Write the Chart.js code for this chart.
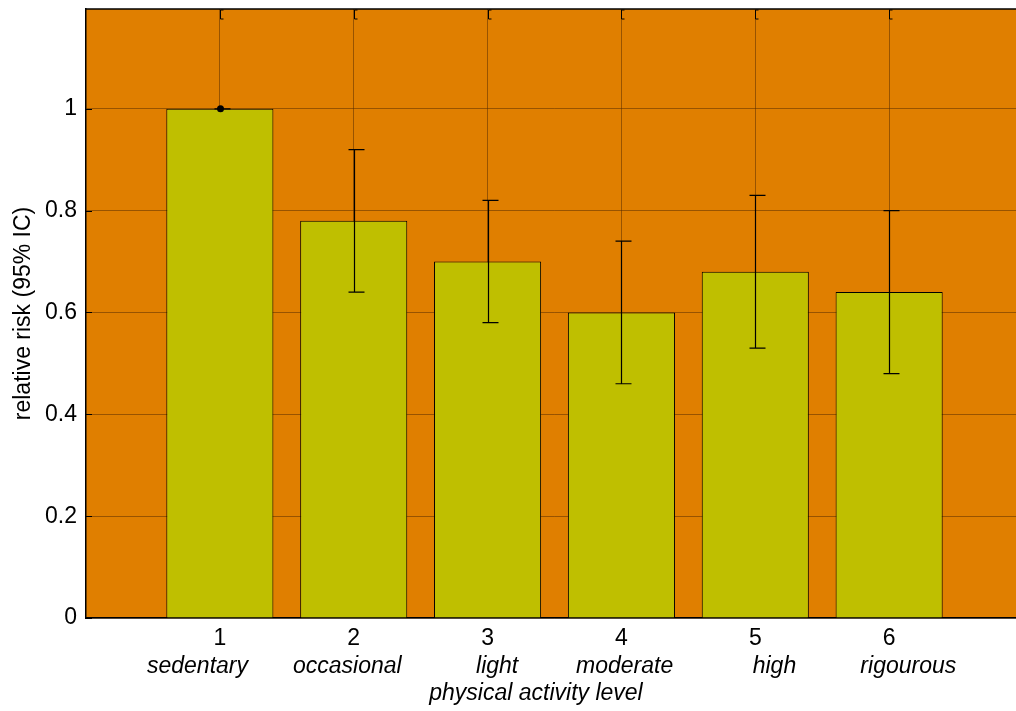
<!DOCTYPE html>
<html>
<head>
<meta charset="utf-8">
<script src="https://cdn.jsdelivr.net/npm/chart.js@4.4.1/dist/chart.umd.min.js"></script>
<style>
  html, body { margin: 0; padding: 0; background: #fff; overflow: hidden; }
  canvas { display: block; }
</style>
</head>
<body>
<canvas id="chart" width="1030" height="711"></canvas>
<script>
// physical activity level vs relative risk
const levels = [1, 2, 3, 4, 5, 6];
const xTickLabels = ["1", "2", "3", "4", "5", "6"];
// names are space padded, the way the original labels sit off-centre
const categories = ["sedentary       ", "occasional  ", "   light", " moderate", "      high", "      rigourous"];
const relativeRisk = [1.0, 0.78, 0.70, 0.60, 0.68, 0.64];
const ciLow = [1.0, 0.64, 0.58, 0.46, 0.53, 0.48];
const ciHigh = [1.0, 0.92, 0.82, 0.74, 0.83, 0.80];
const yTicks = [0, 0.2, 0.4, 0.6, 0.8, 1];
const yTickLabels = ["0", "0.2", "0.4", "0.6", "0.8", "1"];

const family = "'Liberation Sans', Arial, sans-serif";
const gridColor = "rgba(80, 40, 0, 0.5)";

const plotBackground = {
  id: "plotBackground",
  beforeDraw(chart) {
    const { ctx, chartArea: a } = chart;
    ctx.save();
    ctx.fillStyle = "#E07F00";
    ctx.fillRect(a.left, a.top, a.right - a.left, a.bottom - a.top);
    ctx.restore();
  }
};

const errorBars = {
  id: "errorBars",
  afterDatasetsDraw(chart) {
    const { ctx } = chart;
    const xs = chart.scales.x, ys = chart.scales.y;
    ctx.save();
    ctx.strokeStyle = "#000";
    ctx.fillStyle = "#000";
    ctx.lineWidth = 1.2;
    levels.forEach((lv, i) => {
      const x = Math.round(xs.getPixelForValue(lv)) + 0.5;
      const yHi = ys.getPixelForValue(ciHigh[i]);
      const yLo = ys.getPixelForValue(ciLow[i]);
      ctx.beginPath();
      ctx.moveTo(x, yHi);
      ctx.lineTo(x, yLo);
      [yHi, yLo].forEach(y => {
        ctx.moveTo(x - 6, y);
        ctx.lineTo(x + 10, y);
      });
      ctx.stroke();
      if (ciHigh[i] === ciLow[i]) {
        ctx.beginPath();
        ctx.arc(x, ys.getPixelForValue(relativeRisk[i]), 3.5, 0, Math.PI * 2);
        ctx.fill();
      }
    });
    ctx.restore();
  }
};

const frame = {
  id: "frame",
  afterDraw(chart) {
    const { ctx, chartArea: a } = chart;
    const xs = chart.scales.x, ys = chart.scales.y;
    ctx.save();
    ctx.strokeStyle = "#000";
    ctx.lineWidth = 1.5;
    ctx.beginPath();
    ctx.moveTo(a.left, a.top);
    ctx.lineTo(a.right, a.top);
    ctx.stroke();
    ctx.lineWidth = 1;
    ctx.beginPath();
    yTicks.forEach(v => {
      const y = Math.round(ys.getPixelForValue(v)) + 0.5;
      ctx.moveTo(a.left, y);
      ctx.lineTo(a.left + 6, y);
    });
    levels.forEach(v => {
      const x = Math.round(xs.getPixelForValue(v)) + 0.5;
      ctx.moveTo(x + 3, a.top + 1);
      ctx.lineTo(x, a.top + 1);
      ctx.lineTo(x, a.top + 10);
      ctx.lineTo(x + 3, a.top + 10);
    });
    ctx.stroke();
    // axis title
    ctx.fillStyle = "#000";
    ctx.font = "italic 23px " + family;
    ctx.textAlign = "center";
    ctx.textBaseline = "middle";
    ctx.fillText("physical activity level", a.left + 450, 694);
    ctx.restore();
  }
};

const ctx = document.getElementById("chart");
const chart = new Chart(ctx, {
  type: "bar",
  data: {
    datasets: [{
      label: "relative risk",
      data: levels.map((lv, i) => ({ x: lv, y: relativeRisk[i] })),
      backgroundColor: "#BFBF00",
      borderColor: "#000",
      borderWidth: 1,
      barPercentage: 1,
      categoryPercentage: 0.8
    }]
  },
  options: {
    responsive: false,
    animation: false,
    layout: { padding: { top: 9, right: 7, left: 0, bottom: 0 } },
    plugins: { legend: { display: false }, tooltip: { enabled: false } },
    scales: {
      x: {
        type: "linear",
        position: "bottom",
        min: 0,
        max: 7,
        offset: false,
        weight: 0,
        grid: { color: gridColor, offset: false, drawTicks: false },
        border: { color: "#000", width: 1.5 },
        afterBuildTicks: s => { s.ticks = levels.map(v => ({ value: v })); },
        ticks: {
          autoSkip: false,
          maxRotation: 0,
          padding: 7,
          color: "#000",
          font: { family: family, size: 23 },
          callback: v => xTickLabels[levels.indexOf(v)] ?? ""
        },
        afterFit: s => { s.height = 34; s.paddingLeft = 0; s.paddingRight = 0; }
      },
      x2: {
        type: "linear",
        position: "bottom",
        min: 0,
        max: 7,
        offset: false,
        weight: 1,
        grid: { display: false, drawTicks: false },
        border: { display: false },
        afterBuildTicks: s => { s.ticks = levels.map(v => ({ value: v })); },
        ticks: {
          autoSkip: false,
          maxRotation: 0,
          padding: 1,
          color: "#000",
          font: { family: family, size: 23, style: "italic" },
          callback: v => categories[levels.indexOf(v)] ?? ""
        },
        afterFit: s => { s.height = 59; s.paddingLeft = 0; s.paddingRight = 0; }
      },
      y: {
        min: 0,
        max: 1.196,
        position: "left",
        grid: { color: gridColor, drawTicks: false },
        border: { color: "#000", width: 1.5 },
        afterBuildTicks: s => { s.ticks = yTicks.map(v => ({ value: v })); },
        ticks: {
          padding: 9,
          color: "#000",
          font: { family: family, size: 23 },
          callback: (v, i) => yTickLabels[i] ?? ""
        },
        title: {
          display: true,
          text: "relative risk (95% IC)",
          color: "#000",
          font: { family: family, size: 23 },
          padding: 10
        },
        afterFit: s => { s.width = 86; s.paddingTop = 0; s.paddingBottom = 0; }
      }
    }
  },
  plugins: [plotBackground, errorBars, frame]
});
</script>
</body>
</html>
